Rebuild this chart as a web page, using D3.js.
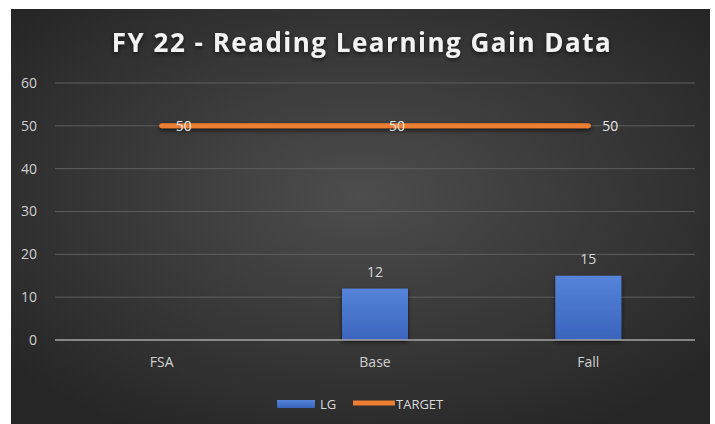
<!DOCTYPE html>
<html>
<head>
<meta charset="utf-8">
<script src="https://cdn.jsdelivr.net/npm/d3@7"></script>
<style>
  body { margin: 0; background: #fff; }
  svg text { font-family: "Open Sans", "Liberation Sans", sans-serif; }
</style>
</head>
<body>
<div id="chart"></div>
<script>
// chart values
var categories = ["FSA", "Base", "Fall"];
var lgValues = [null, 12, 15];
var targetValues = [50, 50, 50];
var yTicks = [0, 10, 20, 30, 40, 50, 60];
var titleText = "FY 22 - Reading Learning Gain Data";

var W = 715, H = 424;
var panel = {x: 11, y: 9, w: 699, h: 415};
var margin = {top: 83, left: 55, right: 20, bottom: 84};
var width = W - margin.left - margin.right,
    height = H - margin.top - margin.bottom;

var svg = d3.select("#chart").append("svg")
    .attr("width", W)
    .attr("height", H);

var defs = svg.append("defs");

// background gradient
var bg = defs.append("radialGradient")
    .attr("id", "bg")
    .attr("cx", "50%").attr("cy", "45%").attr("r", "65%");
bg.append("stop").attr("offset", "0%").attr("stop-color", "#4d4d4d");
bg.append("stop").attr("offset", "100%").attr("stop-color", "#262626");

var barGrad = defs.append("linearGradient")
    .attr("id", "barGrad")
    .attr("x1", 0).attr("y1", 0).attr("x2", 0).attr("y2", 1);
barGrad.append("stop").attr("offset", "0%").attr("stop-color", "#5584da");
barGrad.append("stop").attr("offset", "100%").attr("stop-color", "#3a64bd");

var shadow = defs.append("filter").attr("id", "shadow")
    .attr("x", "-10%").attr("y", "-50%").attr("width", "120%").attr("height", "200%");
shadow.append("feDropShadow")
    .attr("dx", 0).attr("dy", 2).attr("stdDeviation", 2)
    .attr("flood-color", "#000").attr("flood-opacity", 0.6);

// the target line is flat, so its filter region is set in user space
var lineShadow = defs.append("filter").attr("id", "lineShadow")
    .attr("filterUnits", "userSpaceOnUse")
    .attr("x", 0).attr("y", 0).attr("width", W).attr("height", H);
lineShadow.append("feDropShadow")
    .attr("dx", 0).attr("dy", 2).attr("stdDeviation", 2.5)
    .attr("flood-color", "#000").attr("flood-opacity", 0.7);

svg.append("rect")
    .attr("x", panel.x).attr("y", panel.y)
    .attr("width", panel.w).attr("height", panel.h)
    .attr("fill", "url(#bg)");

// title
svg.append("text")
    .attr("x", 362)
    .attr("y", 52)
    .attr("text-anchor", "middle")
    .style("font-size", "26px")
    .style("font-weight", "bold")
    .style("letter-spacing", "1.5px")
    .style("fill", "#f2f2f2")
    .attr("filter", "url(#shadow)")
    .text(titleText);

var g = svg.append("g")
    .attr("transform", "translate(" + margin.left + "," + margin.top + ")");

var x = d3.scaleBand()
    .domain(categories)
    .range([0, width]);

var y = d3.scaleLinear()
    .domain([0, 60])
    .range([height, 0]);

// gridlines
g.selectAll(".grid")
    .data(yTicks.filter(function(d) { return d > 0; }))
  .enter().append("line")
    .attr("x1", 0).attr("x2", width)
    .attr("y1", function(d) { return y(d); })
    .attr("y2", function(d) { return y(d); })
    .attr("stroke", "#5e5e5e")
    .attr("stroke-width", 1);

// y axis labels
g.selectAll(".ylab")
    .data(yTicks)
  .enter().append("text")
    .attr("x", -18)
    .attr("y", function(d) { return y(d); })
    .attr("dy", "0.35em")
    .attr("text-anchor", "end")
    .style("font-size", "14px")
    .style("fill", "#d0d0d0")
    .text(function(d) { return d; });

// bars
var barW = 66;
var bars = categories.map(function(c, i) { return {cat: c, v: lgValues[i]}; })
    .filter(function(d) { return d.v != null; });

g.selectAll(".bar")
    .data(bars)
  .enter().append("rect")
    .attr("x", function(d) { return x(d.cat) + x.bandwidth() / 2 - barW / 2; })
    .attr("y", function(d) { return y(d.v); })
    .attr("width", barW)
    .attr("height", function(d) { return height - y(d.v); })
    .attr("fill", "url(#barGrad)")
    .attr("filter", "url(#shadow)");

g.selectAll(".barlab")
    .data(bars)
  .enter().append("text")
    .attr("x", function(d) { return x(d.cat) + x.bandwidth() / 2; })
    .attr("y", function(d) { return y(d.v) - 12; })
    .attr("text-anchor", "middle")
    .style("font-size", "14px")
    .style("fill", "#d9d9d9")
    .text(function(d) { return d.v; });

// x axis line
g.append("line")
    .attr("x1", 0).attr("x2", width)
    .attr("y1", height).attr("y2", height)
    .attr("stroke", "#a6a6a6")
    .attr("stroke-width", 1.5);

g.selectAll(".xlab")
    .data(categories)
  .enter().append("text")
    .attr("x", function(d) { return x(d) + x.bandwidth() / 2; })
    .attr("y", height + 27)
    .attr("text-anchor", "middle")
    .style("font-size", "14px")
    .style("fill", "#d0d0d0")
    .text(function(d) { return d; });

// target line
var pts = categories.map(function(c, i) { return {cat: c, v: targetValues[i]}; });
var line = d3.line()
    .x(function(d) { return x(d.cat) + x.bandwidth() / 2; })
    .y(function(d) { return y(d.v); });

g.append("path")
    .datum(pts)
    .attr("d", line)
    .attr("fill", "none")
    .attr("stroke", "#ed7d31")
    .attr("stroke-width", 5)
    .attr("stroke-linecap", "round")
    .attr("filter", "url(#lineShadow)");

g.selectAll(".tlab")
    .data(pts)
  .enter().append("text")
    .attr("x", function(d) { return x(d.cat) + x.bandwidth() / 2 + 14; })
    .attr("y", function(d) { return y(d.v); })
    .attr("dy", "0.35em")
    .style("font-size", "14px")
    .style("fill", "#e6e6e6")
    .text(function(d) { return d.v; });

// legend
var leg = svg.append("g").attr("transform", "translate(277,404)");
leg.append("rect")
    .attr("x", 0).attr("y", -4)
    .attr("width", 38).attr("height", 8)
    .attr("fill", "url(#barGrad)");
leg.append("text")
    .attr("x", 43).attr("y", 0).attr("dy", "0.35em")
    .style("font-size", "13px").style("fill", "#d9d9d9")
    .text("LG");
leg.append("line")
    .attr("x1", 76).attr("x2", 118)
    .attr("y1", -1).attr("y2", -1)
    .attr("stroke", "#ed7d31").attr("stroke-width", 5);
leg.append("text")
    .attr("x", 119).attr("y", 0).attr("dy", "0.35em")
    .style("font-size", "13px").style("fill", "#d9d9d9")
    .text("TARGET");
</script>
</body>
</html>
